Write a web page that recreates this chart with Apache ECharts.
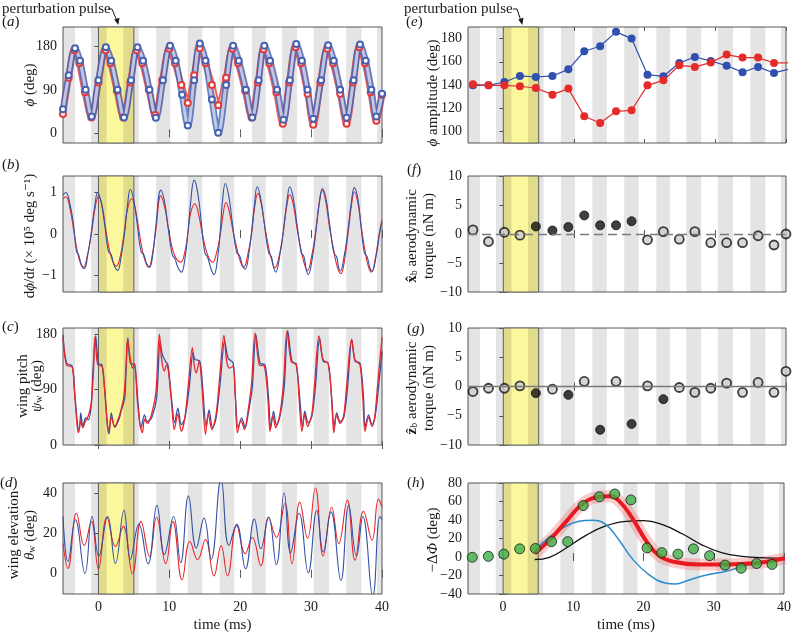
<!DOCTYPE html>
<html>
<head>
<meta charset="utf-8">
<script src="https://cdn.jsdelivr.net/npm/echarts@6/dist/echarts.min.js"></script>
<style>
  html, body { margin: 0; padding: 0; background: #fff; }
  #main { width: 794px; height: 634px; }
</style>
</head>
<body>
<div id="main"></div>
<script>
// ---------- data ----------
// half-wingbeat grey bands (ms) and the perturbation pulse
var stripes = [[-5.5, -3.3], [-1.05, 1.15], [3.5, 5.7], [8.15, 10.15], [12.6, 14.65], [17.1, 19.15],
  [21.65, 23.6], [25.9, 28.0], [30.35, 32.5], [34.95, 37.1], [39.3, 41.5]];
var pulse = [0, 5];
var timeTicks = [0, 10, 20, 30, 40];

// (a) stroke angle phi (deg)
var phiBlue = [[-5,50],[-4.2,120],[-3.3,176],[-2.6,150],[-1.8,90],[-0.95,35],[0,110],[1.05,178],[1.8,150],[2.7,90],
  [3.6,33],[4.6,110],[5.5,178],[6.3,150],[7.2,90],[8.1,32],[9.1,110],[10.1,181],[10.9,150],[11.8,80],[12.6,16],
  [13.5,110],[14.3,186],[15.1,150],[16.0,70],[16.9,1],[18.0,100],[19.0,181],[19.8,150],[20.8,90],[21.7,33],
  [22.6,110],[23.4,181],[24.2,150],[25.2,90],[26.1,28],[27.0,110],[27.9,185],[28.7,150],[29.5,90],[30.3,30],
  [31.4,110],[32.4,182],[33.2,150],[34.1,90],[35.0,32],[36.0,110],[36.9,184],[37.7,150],[38.5,90],[39.2,35],[40,82]];
var phiRed = [[-5,40],[-4.2,115],[-3.4,172],[-2.7,145],[-1.9,85],[-1.0,33],[0,105],[1.0,172],[1.7,145],[2.6,88],
  [3.5,33],[4.5,105],[5.4,172],[6.2,145],[7.1,90],[8.0,38],[9.0,110],[10.0,175],[10.8,145],[11.7,100],[12.6,63],
  [13.5,120],[14.3,176],[15.1,145],[16.0,100],[16.9,58],[18.0,115],[18.9,175],[19.7,145],[20.7,88],[21.6,33],
  [22.5,105],[23.3,174],[24.1,145],[25.1,85],[26.0,20],[26.9,105],[27.8,178],[28.6,145],[29.5,82],[30.3,18],
  [31.3,105],[32.3,175],[33.1,145],[34.1,82],[35.0,20],[35.9,105],[36.8,178],[37.6,145],[38.4,85],[39.2,26],[40,80]];

// (b) stroke velocity (x 10^5 deg/s)
var dphiBlue = [[-5,0.94],[-4.6,1.0],[-4.0,0.7],[-3.5,0.2],[-3.1,-0.42],[-2.8,-0.5],[-2.4,-0.75],[-2.0,-0.84],[-1.5,-0.5],
  [-1.0,0.05],[-0.5,0.7],[-0.1,1.0],[0.4,0.75],[0.9,0.2],[1.4,-0.42],[1.8,-0.5],[2.2,-0.75],[2.7,-0.88],[3.2,-0.55],
  [3.7,0.05],[4.1,0.7],[4.5,1.08],[5.0,0.8],[5.5,0.2],[6.0,-0.42],[6.4,-0.5],[6.8,-0.72],[7.2,-0.8],[7.7,-0.45],
  [8.1,0.2],[8.8,1.06],[9.3,0.8],[9.8,0.2],[10.4,-0.5],[10.8,-0.6],[11.2,-0.8],[11.7,-0.92],[12.2,-0.6],[12.6,0.0],
  [13.0,0.75],[13.5,1.3],[14.0,1.0],[14.5,0.3],[15.0,-0.45],[15.4,-0.56],[15.9,-0.85],[16.3,-0.98],[16.8,-0.6],
  [17.2,0.1],[17.5,0.8],[17.9,1.22],[18.4,0.9],[18.9,0.25],[19.5,-0.45],[19.9,-0.52],[20.3,-0.75],[20.7,-0.85],
  [21.2,-0.5],[21.6,0.05],[22.0,0.7],[22.4,1.14],[22.9,0.85],[23.4,0.25],[24.0,-0.45],[24.4,-0.55],[24.7,-0.8],
  [25.0,-0.92],[25.6,-0.5],[26.1,0.1],[26.6,0.8],[27.0,1.14],[27.5,0.85],[28.0,0.25],[28.6,-0.45],[29.0,-0.55],
  [29.3,-0.85],[29.6,-0.98],[30.2,-0.55],[30.7,0.1],[31.2,0.8],[31.6,1.1],[32.1,0.85],[32.6,0.25],[33.2,-0.45],
  [33.6,-0.55],[33.9,-0.82],[34.1,-0.9],[34.7,-0.5],[35.2,0.1],[35.7,0.8],[36.1,1.12],[36.6,0.85],[37.0,0.25],
  [37.5,-0.45],[37.9,-0.55],[38.3,-0.82],[38.6,-0.9],[39.2,-0.5],[39.7,0.05],[40,0.29]];
var dphiRed = [[-5,0.85],[-4.6,0.9],[-4.0,0.6],[-3.5,0.1],[-3.0,-0.4],[-2.5,-0.72],[-2.1,-0.8],[-1.6,-0.55],[-1.0,0.0],
  [-0.5,0.6],[0.0,0.9],[0.5,0.7],[1.0,0.15],[1.5,-0.35],[2.0,-0.65],[2.5,-0.78],[3.0,-0.6],[3.6,0.0],[4.1,0.6],
  [4.7,0.85],[5.2,0.6],[5.7,0.1],[6.2,-0.4],[6.7,-0.7],[7.1,-0.8],[7.6,-0.5],[8.1,0.1],[8.8,0.92],[9.4,0.6],
  [9.9,0.1],[10.5,-0.4],[11.0,-0.6],[11.6,-0.68],[12.1,-0.5],[12.6,0.0],[13.0,0.5],[13.6,0.73],[14.1,0.5],
  [14.6,0.05],[15.2,-0.4],[15.7,-0.62],[16.1,-0.68],[16.6,-0.5],[17.2,0.0],[17.6,0.5],[18.0,0.76],[18.5,0.5],
  [19.0,0.05],[19.6,-0.4],[20.1,-0.7],[20.5,-0.8],[21.0,-0.55],[21.6,0.0],[22.0,0.6],[22.5,0.98],[23.0,0.7],
  [23.5,0.15],[24.1,-0.4],[24.6,-0.72],[24.9,-0.82],[25.4,-0.6],[26.0,-0.05],[26.5,0.6],[27.0,0.95],[27.5,0.7],
  [28.0,0.15],[28.6,-0.4],[29.1,-0.75],[29.5,-0.88],[30.0,-0.6],[30.6,0.0],[31.1,0.7],[31.6,1.06],[32.1,0.75],
  [32.6,0.15],[33.2,-0.4],[33.7,-0.8],[34.2,-0.96],[34.7,-0.65],[35.2,0.0],[35.7,0.7],[36.1,1.02],[36.6,0.75],
  [37.1,0.15],[37.6,-0.4],[38.1,-0.8],[38.5,-0.92],[39.0,-0.65],[39.6,0.0],[40,0.35]];

// (c) wing pitch psi_w (deg)
var pitchBlue = [[-5,179],[-4.5,133],[-3.7,128],[-3.4,93],[-2.9,28],[-2.7,25],[-2.5,52],[-2.2,30],[-1.8,44],[-1.4,41],
  [-1.0,66],[-0.8,114],[-0.4,177],[0,133],[0.5,130],[0.85,93],[1.3,28],[1.5,18],[1.8,52],[2.3,29],[2.9,42],[3.2,55],
  [3.7,76],[3.9,120],[4.15,174],[4.5,133],[5.1,130],[5.6,66],[6.0,28],[6.5,49],[6.85,38],[7.5,44],[8.2,76],[8.7,169],
  [9.0,147],[9.5,135],[9.8,130],[10.3,76],[10.75,36],[11.2,60],[11.7,33],[12.2,44],[12.8,93],[13.35,150],[13.6,139],
  [14.3,136],[14.7,93],[15.2,30],[15.6,57],[16.1,28],[16.6,44],[17.2,104],[17.8,169],[18.3,141],[19.0,133],[19.3,82],
  [19.7,28],[20.2,44],[20.7,28],[21.1,49],[21.7,93],[22.2,179],[22.8,133],[23.5,130],[24.0,76],[24.3,28],[24.7,55],
  [25.1,33],[25.6,46],[26.2,93],[26.7,186],[27.3,136],[27.9,130],[28.4,76],[28.8,28],[29.1,55],[29.6,36],[30.1,46],
  [30.6,93],[31.2,174],[31.7,136],[32.4,133],[32.9,76],[33.25,29],[33.6,52],[34.1,38],[34.6,44],[35.1,88],[35.75,171],
  [36.2,136],[36.9,133],[37.4,76],[37.6,29],[38.1,49],[38.6,33],[39.0,44],[39.5,93],[40,152]];
var pitchRed = [[-5,175],[-4.5,130],[-3.7,126],[-3.4,90],[-3.0,30],[-2.8,20],[-2.5,40],[-2.2,28],[-1.8,40],[-1.4,48],
  [-1.0,70],[-0.7,120],[-0.5,175],[-0.1,130],[0.5,128],[0.85,95],[1.3,30],[1.5,25],[1.8,45],[2.3,30],[2.9,46],[3.2,58],
  [3.6,80],[3.9,130],[4.1,172],[4.5,140],[4.8,125],[5.1,132],[5.5,70],[5.9,30],[6.2,20],[6.5,42],[6.9,35],[7.5,50],
  [8.1,85],[8.6,180],[8.9,140],[9.3,120],[9.6,130],[9.9,118],[10.3,70],[10.7,25],[11.2,50],[11.7,22],[12.2,45],
  [12.7,100],[13.25,158],[13.5,130],[13.8,117],[14.2,136],[14.6,95],[15.1,17],[15.5,50],[16.0,25],[16.6,50],[17.1,110],
  [17.7,178],[18.1,135],[18.5,125],[19.0,128],[19.3,80],[19.6,20],[20.1,40],[20.6,25],[21.1,55],[21.6,100],[22.1,182],
  [22.7,130],[23.4,128],[23.9,75],[24.2,22],[24.6,48],[25.0,28],[25.6,50],[26.1,100],[26.6,185],[27.2,135],[27.9,132],
  [28.3,75],[28.7,22],[29.1,50],[29.5,30],[30.1,50],[30.5,100],[31.1,177],[31.7,138],[32.4,133],[32.9,75],[33.2,20],
  [33.6,48],[34.1,35],[34.6,48],[35.0,95],[35.7,172],[36.2,138],[36.9,130],[37.3,75],[37.6,22],[38.1,45],[38.6,30],
  [39.0,48],[39.4,100],[40,175]];

// (d) wing elevation theta_w (deg)
var elevBlue = [[-5,28.4],[-4.3,6.1],[-3.25,26.8],[-1.9,0.2],[-0.9,28.4],[0.05,8.8],[1.3,28.4],[2.4,5.2],[3.6,31.5],
  [4.5,7.2],[5.7,24.5],[7.0,4.9],[8.25,33.9],[9.3,9.6],[10.6,28.4],[11.6,5.6],[12.7,38.6],[13.8,12.7],[14.9,27.6],
  [15.9,7.2],[17.3,47],[18.4,14],[19.5,24.5],[20.75,2.5],[22.0,27.1],[22.9,12.4],[24.0,28.1],[25.1,4.5],[26.2,40.2],
  [27.1,10.4],[28.3,30],[29.6,0.5],[30.8,31.5],[31.7,10.8],[32.8,30.7],[34.2,-3.3],[35.3,33.9],[36.4,8.8],[37.3,28.4],
  [38.7,-11],[39.7,28.4],[40,27]];
var elevRed = [[-5,15],[-4.3,2.7],[-3.1,30],[-2.0,14],[-1.0,26],[0,2.4],[1.2,28],[2.4,13.5],[3.5,23.5],[4.8,0],[6.0,26],
  [7.2,8.6],[8.2,28],[9.5,5],[10.5,26],[11.8,-3],[12.9,16],[14.0,7],[15.1,17],[16.3,-1],[17.3,14],[18.2,-1],[19.5,24],
  [20.7,10],[21.7,18],[22.9,4],[24.0,28],[25.1,18],[26.3,35],[27.3,5],[28.4,35.5],[29.5,17.7],[30.6,42.5],[31.7,8.8],
  [32.9,33],[33.9,15],[35.1,36.5],[36.2,6.7],[37.4,31],[38.6,16.6],[39.5,37],[40,33]];

// (e) stroke amplitude per half stroke (deg)
var ampTime = [-4.3,-2.1,0.15,2.35,4.6,6.95,9.2,11.45,13.7,15.95,18.15,20.4,22.65,24.9,27.1,29.35,31.6,33.85,36.05,38.3,40.55];
var ampBlue = [139.7,139.7,142.6,147.8,146.9,147.8,153.5,169.1,173.4,185.8,180,148.9,147.5,159,164.2,160.7,156.7,151,155.6,150.4,154];
var ampRed = [140.6,139.7,139.7,138.9,137.4,131.7,136.9,113,107.2,117.3,118.2,139.7,144,157,155.6,159.3,166.2,163.6,163.6,159,159];

// (f), (g) aerodynamic torques (nN m); filled = significant
var torqueTime = [-4.3,-2.1,0.15,2.35,4.6,6.95,9.2,11.45,13.7,15.95,18.15,20.4,22.65,24.9,27.1,29.35,31.6,33.85,36.05,38.3,40];
var torqueX = [0.7,-1.3,0.3,-0.2,1.3,0.6,1.2,3.2,1.5,1.5,2.2,-1.0,0.4,-0.9,0.4,-1.5,-1.5,-1.5,-0.3,-1.9,0];
var torqueXSig = [0,0,0,0,1,1,1,1,1,1,1,0,0,0,0,0,0,0,0,0,0];
var torqueZ = [-0.86,-0.3,-0.3,0.1,-1.14,-0.46,-1.43,0.86,-7.4,0.86,-6.4,0.1,-2.17,-0.17,-1.0,-0.3,0.57,-1.0,0.69,-1.0,2.6];
var torqueZSig = [0,0,0,0,1,0,1,0,1,0,1,0,1,0,0,0,0,0,0,0,0];

// (h) change in stroke angle -dPhi (deg)
var dPhiTime = [-4.39,-2.1,0.1,2.36,4.6,6.9,9.2,11.4,13.7,15.9,18.2,20.5,22.6,24.9,27.1,29.4,31.6,33.9,36.1,38.3];
var dPhiMeasured = [-0.3,0.7,3.1,8.8,9.2,16.6,16.6,55.6,65.1,68.1,61.7,9.8,4.7,3.1,8.8,1.4,-8.8,-12.2,-7.1,-8.1];
var dPhiModel = [[4.5,4.1],[6.6,18.3],[9.0,38.6],[11.3,57.3],[13.7,65.1],[15.1,65.8],[16.5,60.7],[18.4,42],[20.3,18.3],
  [22.2,1.4],[24.5,-5.4],[27.8,-8.1],[31.6,-8.1],[34.9,-7.1],[37.3,-5.4],[40.1,-1.4]];
var dPhiBlueTerm = [[4.5,6.4],[6.6,21.7],[9.0,33.6],[10.8,38.6],[12.7,39.7],[14.6,35.3],[16.5,18.3],[18.4,-2],[20.75,-19],
  [23.1,-28.1],[24.5,-29.2],[26.4,-25.1],[28.8,-19.7],[31.6,-15.6],[34.0,-10.5],[36.3,-6.1],[38.7,-2.7],[40.1,-1.4]];
var dPhiBlackTerm = [[4.5,-2.7],[6.6,-0.3],[9.0,9.8],[11.8,23.4],[14.6,33.6],[17.5,38.6],[20.0,39.3],[22.6,35.3],
  [25.5,25.1],[28.3,13.2],[31.1,4.7],[34.0,0.7],[37.3,-1],[40.1,-1.4]];

// ---------- chart ----------
var FONT = '"Liberation Serif", "DejaVu Serif", serif';
var RED = '#e8262b', BLUE = '#3452a4', FRAME = '#5a5a5a';

var panels = [
  { box: { left: 63, top: 27, width: 319, height: 116 }, y: [-20, 220], yt: [0, 90, 180] },
  { box: { left: 63, top: 176, width: 319, height: 116 }, y: [-1.4, 1.4], yt: [-1, 0, 1] },
  { box: { left: 63, top: 328, width: 319, height: 117 }, y: [0, 190], yt: [0, 90, 180] },
  { box: { left: 63, top: 483, width: 319, height: 117 }, y: [-10, 45], yt: [0, 20, 40], xl: true },
  { box: { left: 468, top: 27, width: 318, height: 116 }, y: [90, 190], yt: [100, 120, 140, 160, 180] },
  { box: { left: 468, top: 176, width: 318, height: 116 }, y: [-10, 10], yt: [-10, -5, 0, 5, 10] },
  { box: { left: 468, top: 328, width: 318, height: 117 }, y: [-10, 10], yt: [-10, -5, 0, 5, 10] },
  { box: { left: 468, top: 483, width: 318, height: 117 }, y: [-40, 80], yt: [-40, -20, 0, 20, 40, 60, 80], xl: true }
];

function minus(v) { return String(v).replace('-', '\u2212'); }

var grid = [], xAxis = [], yAxis = [], series = [];
var tickStyle = { color: FRAME, width: 1 };
var labelStyle = { fontFamily: FONT, fontSize: 14, color: '#1a1a1a' };

panels.forEach(function (p, i) {
  grid.push(Object.assign({ show: true, borderColor: FRAME, borderWidth: 1, backgroundColor: '#fff' }, p.box));
  ['bottom', 'top'].forEach(function (pos) {
    var lab = pos === 'bottom' && p.xl;
    xAxis.push({
      type: 'value', gridIndex: i, min: -5, max: 40, position: pos,
      axisLine: { show: false }, splitLine: { show: false },
      axisTick: { inside: true, length: 4, lineStyle: tickStyle, customValues: timeTicks },
      axisLabel: Object.assign({ show: lab, margin: 6, customValues: timeTicks, formatter: minus }, labelStyle),
      name: lab ? 'time (ms)' : '', nameLocation: 'middle', nameGap: 24,
      nameTextStyle: { fontFamily: FONT, fontSize: 15, color: '#1a1a1a' }
    });
  });
  ['left', 'right'].forEach(function (pos) {
    yAxis.push({
      type: 'value', gridIndex: i, min: p.y[0], max: p.y[1], position: pos,
      axisLine: { show: false }, splitLine: { show: false },
      axisTick: { inside: true, length: 4, lineStyle: tickStyle, customValues: p.yt },
      axisLabel: Object.assign({ show: pos === 'left', margin: 6, customValues: p.yt, formatter: minus }, labelStyle)
    });
  });
  // background: pulse box and grey half-stroke bands
  var areas = [[{ xAxis: pulse[0], itemStyle: { color: '#fbf79c', borderColor: '#6a6a6a', borderWidth: 1 } }, { xAxis: pulse[1] }]];
  stripes.forEach(function (s) {
    areas.push([{ xAxis: Math.max(s[0], -5), itemStyle: { color: 'rgba(0,0,0,0.105)', borderWidth: 0 } }, { xAxis: Math.min(s[1], 40) }]);
  });
  series.push({
    type: 'line', xAxisIndex: 2 * i, yAxisIndex: 2 * i, data: [], silent: true,
    markArea: { silent: true, data: areas }
  });
});

function curve(i, data, color, width, extra) {
  return Object.assign({
    type: 'line', xAxisIndex: 2 * i, yAxisIndex: 2 * i, data: data, smooth: 0.45,
    showSymbol: false, clip: true, lineStyle: { color: color, width: width }, itemStyle: { color: color }
  }, extra || {});
}

// (a) hollow-circle trace: thin coloured tube with a white core, small circles at the read points
[[phiRed, '#e43a3a'], [phiBlue, '#4561b3']].forEach(function (d) {
  series.push(curve(0, d[0], d[1], 6.5, { smooth: 0.35, lineStyle: { color: d[1], width: 6.5, opacity: 0.8 } }));
  series.push(curve(0, d[0], '#fff', 3, { smooth: 0.35, lineStyle: { color: '#fff', width: 3, opacity: 0.6 } }));
  series.push(curve(0, d[0], d[1], 1, {
    smooth: 0.35, lineStyle: { width: 0, opacity: 0 }, showSymbol: true, showAllSymbol: true, symbol: 'emptyCircle', symbolSize: 6,
    itemStyle: { color: d[1], borderColor: d[1], borderWidth: 1 }
  }));
});
// (b)-(d)
series.push(curve(1, dphiRed, RED, 1.1), curve(1, dphiBlue, BLUE, 1.1));
series.push(curve(2, pitchBlue, BLUE, 1.3, { smooth: 0.3 }), curve(2, pitchRed, RED, 1.3, { smooth: 0.3 }));
series.push(curve(3, elevRed, RED, 1.1), curve(3, elevBlue, BLUE, 1.1));

// (e)
function pairs(t, v) { return t.map(function (x, k) { return [x, v[k]]; }); }
[[ampBlue, '#3050b0'], [ampRed, '#e62a2a']].forEach(function (d) {
  series.push({
    type: 'line', xAxisIndex: 8, yAxisIndex: 8, data: pairs(ampTime, d[0]), clip: true,
    symbol: 'circle', symbolSize: 8, lineStyle: { color: d[1], width: 1.2 }, itemStyle: { color: d[1] }
  });
});

// (f), (g)
function torquePoints(vals, sig) {
  return torqueTime.map(function (t, k) {
    return {
      value: [t, vals[k]],
      itemStyle: sig[k] ? { color: '#111', borderColor: '#111', borderWidth: 1 } : { color: '#cdcdcd', borderColor: '#111', borderWidth: 1.8 }
    };
  });
}
series.push({
  type: 'scatter', xAxisIndex: 10, yAxisIndex: 10, data: torquePoints(torqueX, torqueXSig), symbolSize: 9, z: 3,
  markLine: { silent: true, symbol: 'none', label: { show: false }, lineStyle: { color: '#7a7a7a', type: [9, 5], width: 1.3 }, data: [{ yAxis: 0 }] }
});
series.push({
  type: 'scatter', xAxisIndex: 12, yAxisIndex: 12, data: torquePoints(torqueZ, torqueZSig), symbolSize: 9, z: 3,
  markLine: { silent: true, symbol: 'none', label: { show: false }, lineStyle: { color: '#7a7a7a', type: 'solid', width: 1.3 }, data: [{ yAxis: 0 }] }
});

// (h)
series.push(curve(7, dPhiModel, 'rgba(240,110,110,0.35)', 12));
series.push(curve(7, dPhiBlackTerm, '#111', 1.3));
series.push(curve(7, dPhiBlueTerm, '#2a8ccf', 1.5));
series.push(curve(7, dPhiModel, '#e8191f', 4));
series.push({
  type: 'scatter', xAxisIndex: 14, yAxisIndex: 14, data: pairs(dPhiTime, dPhiMeasured), symbolSize: 10, z: 4,
  itemStyle: { color: '#3fae45', borderColor: '#1a1a1a', borderWidth: 1 }
});

// ---------- text ----------
var T = { fontFamily: FONT, fontSize: 15, fill: '#1a1a1a' };
var richDef = {
  i: { fontStyle: 'italic', fontFamily: FONT, fontSize: 15, fill: '#1a1a1a' },
  b: { fontWeight: 'bold', fontFamily: FONT, fontSize: 15, fill: '#1a1a1a' },
  s: { fontFamily: FONT, fontSize: 10, fill: '#1a1a1a', verticalAlign: 'bottom', lineHeight: 8 }
};
function txt(x, y, text, rot, size) {
  return {
    type: 'text', x: x, y: y, rotation: rot ? Math.PI / 2 : 0, silent: true,
    style: Object.assign({}, T, { text: text, fontSize: size || 15, rich: richDef, align: 'center', verticalAlign: 'middle' })
  };
}
function label(x, y, letter) {
  return {
    type: 'text', x: x, y: y, silent: true,
    style: Object.assign({}, T, { text: '({i|' + letter + '})', rich: richDef, align: 'left', verticalAlign: 'middle' })
  };
}
var arrowStyle = { stroke: '#1a1a1a', lineWidth: 1, fill: 'none' };
var graphic = [
  { type: 'text', x: 2, y: 9, silent: true, style: Object.assign({}, T, { text: 'perturbation pulse', verticalAlign: 'middle' }) },
  { type: 'polyline', silent: true, shape: { points: [[108, 9], [112, 9], [117, 21]] }, style: arrowStyle },
  { type: 'polygon', silent: true, shape: { points: [[114.3, 19.5], [119.5, 17.8], [118.3, 25]] }, style: { fill: '#1a1a1a' } },
  { type: 'text', x: 404, y: 9, silent: true, style: Object.assign({}, T, { text: 'perturbation pulse', verticalAlign: 'middle' }) },
  { type: 'polyline', silent: true, shape: { points: [[513, 9], [517, 9], [521, 21]] }, style: arrowStyle },
  { type: 'polygon', silent: true, shape: { points: [[518.3, 19.5], [523.5, 17.8], [522.3, 25]] }, style: { fill: '#1a1a1a' } },
  label(2, 22, 'a'), label(2, 165, 'b'), label(2, 327, 'c'), label(0, 483, 'd'),
  label(406, 22, 'e'), label(407, 170, 'f'), label(407, 329, 'g'), label(407, 483, 'h'),
  txt(30, 85, '{i|\u03d5} (deg)', true),
  txt(30, 236, 'd{i|\u03d5}/d{i|t} (\u00d7 10\u2075 deg s\u207b\u00b9)', true),
  txt(23, 386, 'wing pitch', true),
  txt(37, 386, '{i|\u03c8}{s|w} (deg)', true),
  txt(14, 535, 'wing elevation', true),
  txt(30, 535, '{i|\u03b8}{s|w} (deg)', true),
  txt(433, 93, '{i|\u03d5} amplitude (deg)', true),
  txt(412, 236, '{b|x\u0302}{s|b} aerodynamic', true),
  txt(429, 236, 'torque (nN m)', true),
  txt(412, 388, '{b|z\u0302}{s|b} aerodynamic', true),
  txt(429, 388, 'torque (nN m)', true),
  txt(433, 540, '\u2212\u0394{i|\u03a6} (deg)', true)
];

var chart = echarts.init(document.getElementById('main'));
chart.setOption({
  animation: false,
  backgroundColor: '#fff',
  grid: grid, xAxis: xAxis, yAxis: yAxis, series: series, graphic: graphic
});
</script>
</body>
</html>
